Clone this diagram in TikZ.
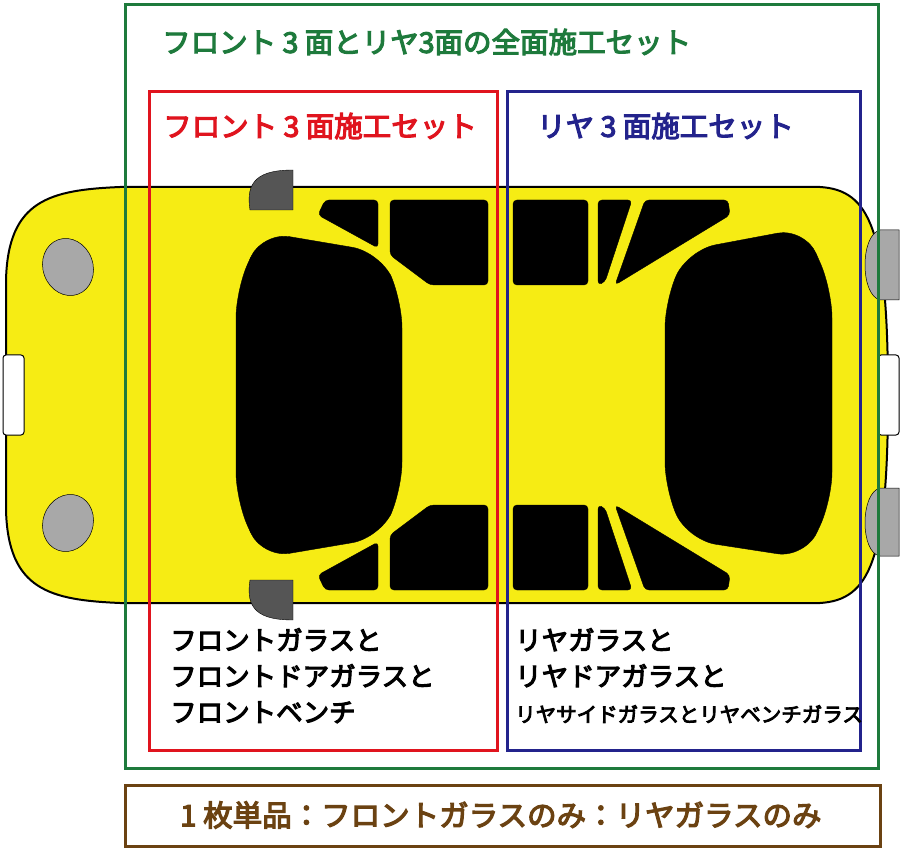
\documentclass[tikz,border=0pt]{standalone}
\usepackage{fontspec}
\usetikzlibrary{shapes.geometric}
\newfontfamily\cjk{Noto Sans CJK JP}[AutoFakeBold=4]
\definecolor{cy}{HTML}{F6EC14}
\definecolor{cg}{HTML}{1E7A3C}
\definecolor{cr}{HTML}{E0141E}
\definecolor{cb}{HTML}{23238C}
\definecolor{cbr}{HTML}{6B4212}
\definecolor{lg}{HTML}{A8A8A8}
\definecolor{dg}{HTML}{555555}
\begin{document}
\begin{tikzpicture}[x=1pt,y=-1pt,
  win/.style={fill=black,draw=black,line join=round,rounded corners=4pt},
  lbl/.style={font=\cjk\bfseries,anchor=west,inner sep=0pt},
  frm/.style={line width=3pt}]
\useasboundingbox (0,0) rectangle (900,850);
% body
\draw[fill=cy,line width=2pt] (120,187) -- (820,187) .. controls (870,190) and (888,230) .. (888,395)
  .. controls (888,560) and (870,600) .. (820,603) -- (120,603)
  .. controls (50,600) and (8,590) .. (6,510) -- (6,280) .. controls (8,200) and (50,190) .. (120,187) -- cycle;
% headlights
\node[fill=lg,draw=black,line width=0.5pt,ellipse,minimum width=50pt,minimum height=58pt,rotate=20,inner sep=0pt] (hl1) at (68,267) {};
\node[fill=lg,draw=black,line width=0.5pt,ellipse,minimum width=50pt,minimum height=58pt,rotate=-20,inner sep=0pt] (hl2) at (68,523) {};
% plates
\draw[fill=white,rounded corners=3pt,line width=1pt] (3,355) rectangle (24,435);
\draw[fill=white,rounded corners=3pt,line width=1pt] (878,355) rectangle (899,435);
% taillights
\draw[fill=lg,draw=black,line width=0.5pt] (880,230) .. controls (860,235) and (860,295) .. (880,300) -- (899,300) -- (899,230) -- cycle;
\draw[fill=lg,draw=black,line width=0.5pt] (880,488) .. controls (860,493) and (860,553) .. (880,556) -- (899,556) -- (899,488) -- cycle;
% mirrors
\draw[fill=dg,draw=black] (250,210) .. controls (245,180) and (260,170) .. (293,170) -- (293,210) -- cycle;
\draw[fill=dg,draw=black] (250,580) .. controls (245,610) and (260,620) .. (293,620) -- (293,580) -- cycle;
% windshield
\draw[win,rounded corners=28pt] (262,232) -- (380,252) -- (402,300) -- (402,490) -- (380,538) -- (262,558) -- (236,500) -- (236,290) -- cycle;
% rear window
\draw[win,rounded corners=28pt] (805,228) -- (688,250) -- (665,300) -- (665,490) -- (688,540) -- (805,558) -- (832,500) -- (832,290) -- cycle;
% front side windows top
\draw[win] (318,215) -- (325,200) -- (378,200) -- (378,248) -- cycle;
\draw[win] (390,200) -- (488,200) -- (488,285) -- (430,285) -- (390,255) -- cycle;
% front side windows bottom
\draw[win] (318,575) -- (325,590) -- (378,590) -- (378,542) -- cycle;
\draw[win] (390,590) -- (488,590) -- (488,505) -- (430,505) -- (390,535) -- cycle;
% rear side windows top
\draw[win] (513,200) -- (588,200) -- (588,285) -- (513,285) -- cycle;
\draw[win] (598,200) -- (632,200) -- (605,282) -- (598,285) -- cycle;
\draw[win] (645,200) -- (728,200) -- (730,215) -- (615,285) -- cycle;
% rear side windows bottom
\draw[win] (513,590) -- (588,590) -- (588,505) -- (513,505) -- cycle;
\draw[win] (598,590) -- (632,590) -- (605,508) -- (598,505) -- cycle;
\draw[win] (645,590) -- (728,590) -- (730,575) -- (615,505) -- cycle;
% frames
\draw[frm,cg] (125,5) rectangle (878,768);
\draw[frm,cr] (149,92) rectangle (497,750);
\draw[frm,cb] (507,92) rectangle (860,750);
\draw[frm,cbr] (125,785) rectangle (880,846);
% texts
\node[lbl,text=cg,font=\cjk\bfseries\fontsize{28.5}{32}\selectfont] (t1) at (162,42) {フロント 3 面とリヤ3面の全面施工セット};
\node[lbl,text=cr,font=\cjk\bfseries\fontsize{28.5}{32}\selectfont] (t2) at (163,126) {フロント 3 面施工セット};
\node[lbl,text=cb,font=\cjk\bfseries\fontsize{28.5}{32}\selectfont] (t3) at (537,126) {リヤ 3 面施工セット};
\node[lbl,font=\cjk\bfseries\fontsize{26.5}{36}\selectfont,align=left,anchor=north west] (t4) at (170,628) {フロントガラスと\\フロントドアガラスと\\フロントベンチ};
\node[lbl,font=\cjk\bfseries\fontsize{26.5}{36}\selectfont,align=left,anchor=north west] (t5) at (515,628) {リヤガラスと\\リヤドアガラスと\\\fontsize{20.5}{36}\selectfont リヤサイドガラスとリヤベンチガラス};
\node[lbl,text=cbr,font=\cjk\bfseries\fontsize{29.5}{32}\selectfont] (t6) at (180,815) {1 枚単品：フロントガラスのみ：リヤガラスのみ};
\end{tikzpicture}
\end{document}
